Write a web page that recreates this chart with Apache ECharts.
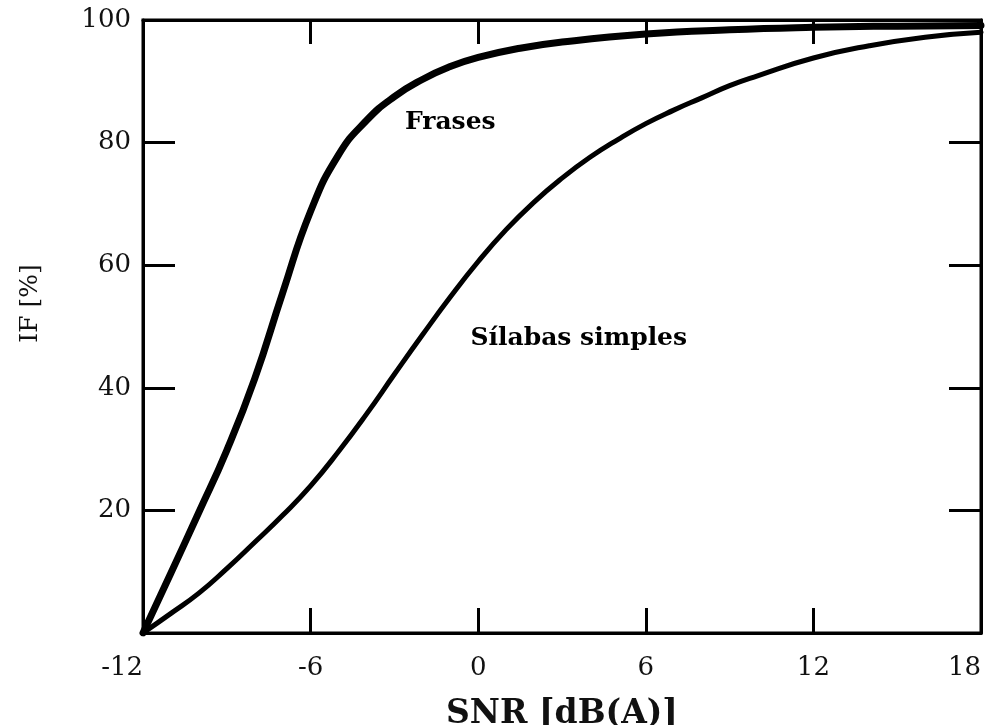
<!DOCTYPE html>
<html>
<head>
<meta charset="utf-8">
<script src="https://cdn.jsdelivr.net/npm/echarts@6/dist/echarts.min.js"></script>
<style>
  html, body { margin: 0; padding: 0; background: #fff; }
  #chart { width: 994px; height: 725px; }
</style>
</head>
<body>
<div id="chart"></div>
<script>
// IF [%] vs SNR [dB(A)]
const frasesSnr = [-12, -11, -10, -9, -8, -7, -6, -5, -4, -3, -2, -1, 0, 1.5, 3, 6, 9, 12, 15, 18];
const frasesIf  = [0, 9.8, 19.7, 29.8, 41.5, 55.5, 68.8, 78.0, 83.6, 87.5, 90.3, 92.4, 93.9, 95.4, 96.4, 97.7, 98.4, 98.8, 99.0, 99.1];

const silabasSnr = [-12, -11, -10, -9, -8, -7, -6, -5, -4, -3, -2, -1, 0, 1, 2, 3, 4, 5, 6, 7, 8, 9, 10, 12, 14, 16, 18];
const silabasIf  = [0, 3.2, 6.5, 10.5, 14.8, 19.2, 24.0, 29.6, 35.7, 42.2, 48.6, 54.8, 60.6, 65.8, 70.3, 74.2, 77.6, 80.5, 83.1, 85.3, 87.3, 89.3, 90.9, 93.8, 95.8, 97.2, 98.0];

const xTicks = [-12, -6, 0, 6, 12, 18];
const xInnerTicks = [-6, 0, 6, 12];
const yTicks = [20, 40, 60, 80, 100];
const yInnerTicks = [20, 40, 60, 80];

const curveNames = ['Frases', 'Sílabas simples'];
const curveLabelSnr = [-1.0, 3.6];
const curveLabelIf = [83.2, 48.1];

const font = 'DejaVu Serif';
const zip = (a, b) => a.map((v, i) => [v, b[i]]);

const chart = echarts.init(document.getElementById('chart'));

const axisLine = { show: true, onZero: false, lineStyle: { color: '#000', width: 3 } };
const tickStyle = { color: '#000', width: 3 };

chart.setOption({
  backgroundColor: '#fff',
  animation: false,
  grid: {
    left: 143, right: 13, top: 20, bottom: 92,
    outerBoundsMode: 'none', containLabel: false,
    show: true, borderColor: '#000', borderWidth: 3
  },
  xAxis: [
    {
      type: 'value', min: -12, max: 18, interval: 6, position: 'bottom',
      axisLine: axisLine,
      axisTick: { inside: true, length: 25, customValues: xInnerTicks, lineStyle: tickStyle },
      axisLabel: {
        customValues: xTicks, fontFamily: font, fontSize: 26, color: '#111', margin: 22,
        alignMinLabel: 'right', alignMaxLabel: 'right'
      },
      splitLine: { show: false },
      name: 'SNR [dB(A)]', nameLocation: 'middle', nameGap: 65,
      nameTextStyle: { fontFamily: font, fontSize: 33, fontWeight: 'bold', color: '#111' }
    },
    {
      type: 'value', min: -12, max: 18, interval: 6, position: 'top',
      axisLine: axisLine,
      axisTick: { inside: true, length: 24, customValues: xInnerTicks, lineStyle: tickStyle },
      axisLabel: { show: false },
      splitLine: { show: false }
    }
  ],
  yAxis: [
    {
      type: 'value', min: 0, max: 100, interval: 20, position: 'left',
      axisLine: axisLine,
      axisTick: { inside: true, length: 32, customValues: yInnerTicks, lineStyle: tickStyle },
      axisLabel: { customValues: yTicks, fontFamily: font, fontSize: 26, color: '#111', margin: 12 },
      splitLine: { show: false },
      name: 'IF [%]', nameLocation: 'middle', nameGap: 100,
      nameTextStyle: { fontFamily: font, fontSize: 25, color: '#111', padding: [0, 0, 0, 46] }
    },
    {
      type: 'value', min: 0, max: 100, interval: 20, position: 'right',
      axisLine: axisLine,
      axisTick: { inside: true, length: 32, customValues: yInnerTicks, lineStyle: tickStyle },
      axisLabel: { show: false },
      splitLine: { show: false }
    }
  ],
  series: [
    {
      name: curveNames[0], type: 'line', smooth: 0.5, showSymbol: false,
      data: zip(frasesSnr, frasesIf),
      lineStyle: { color: '#000', width: 7, cap: 'round', join: 'round' }
    },
    {
      name: curveNames[1], type: 'line', smooth: 0.5, showSymbol: false,
      data: zip(silabasSnr, silabasIf),
      lineStyle: { color: '#000', width: 5, cap: 'round', join: 'round' }
    },
    {
      name: 'labels', type: 'scatter', symbolSize: 1,
      itemStyle: { color: 'transparent', opacity: 1 },
      data: curveNames.map((n, i) => [curveLabelSnr[i], curveLabelIf[i], n]),
      label: {
        show: true, position: 'inside', formatter: p => p.data[2], opacity: 1,
        fontFamily: font, fontSize: 25, fontWeight: 'bold', color: '#000',
        textBorderWidth: 0
      }
    }
  ]
});
</script>
</body>
</html>
